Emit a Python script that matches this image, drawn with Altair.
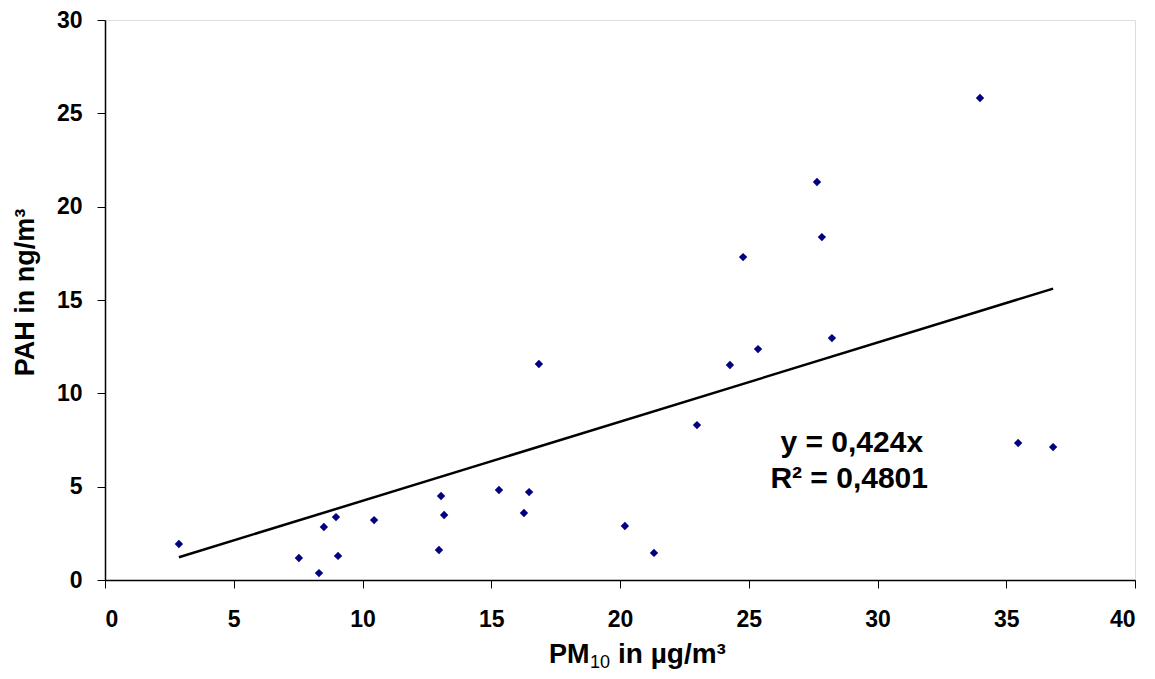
import altair as alt
import pandas as pd

# Data
pm10 = [2.87, 7.53, 8.31, 8.50, 8.97, 9.05, 10.45, 12.97, 13.05, 13.17, 15.30, 16.27,
        16.47, 16.85, 20.19, 21.32, 22.99, 24.27, 24.78, 25.36, 27.65, 27.84, 28.23,
        33.98, 35.46, 36.82]
pah = [1.93, 1.18, 0.37, 2.84, 3.37, 1.29, 3.21, 1.61, 4.50, 3.48, 4.82, 3.59,
       4.71, 11.57, 2.89, 1.45, 8.30, 11.52, 17.30, 12.37, 21.32, 18.37, 12.96,
       25.82, 7.34, 7.12]

trend_x = [2.87, 36.82]
trend_y = [1.22, 15.61]

eq_lines = ["y = 0,424x", "R² = 0,4801"]
eq_x = [29.0, 28.9]
eq_y = [7.35, 5.4]

FONT = "Liberation Sans"

pts = pd.DataFrame({"pm10": pm10, "pah": pah})
trend = pd.DataFrame({"pm10": trend_x, "pah": trend_y})
eq = pd.DataFrame({"pm10": eq_x, "pah": eq_y, "label": eq_lines})

xscale = alt.Scale(domain=[0, 40], nice=False, zero=False)
yscale = alt.Scale(domain=[0, 30], nice=False, zero=False)

xaxis = alt.Axis(
    title=None, values=list(range(0, 41, 5)), grid=False,
    labelFont=FONT, labelFontSize=23, labelFontWeight="bold", labelColor="#000",
    labelPadding=20, tickSize=8, tickColor="#000", domainColor="#000", domainWidth=1.5,
)
yaxis = alt.Axis(
    title="PAH in ng/m³", values=list(range(0, 31, 5)), grid=False,
    labelFont=FONT, labelFontSize=23, labelFontWeight="bold", labelColor="#000",
    labelPadding=15, tickSize=8, tickColor="#000", domainColor="#000", domainWidth=1.5,
    titleFont=FONT, titleFontSize=27, titleFontWeight="bold", titleColor="#000",
    titleX=-66, titleY=272,
)

points = alt.Chart(pts).mark_point(
    shape="diamond", filled=True, color="#000080", size=70, opacity=1
).encode(
    x=alt.X("pm10:Q", scale=xscale, axis=xaxis),
    y=alt.Y("pah:Q", scale=yscale, axis=yaxis),
)

line = alt.Chart(trend).mark_line(color="#000", strokeWidth=2.5).encode(
    x=alt.X("pm10:Q", scale=xscale),
    y=alt.Y("pah:Q", scale=yscale),
)

text = alt.Chart(eq).mark_text(
    font=FONT, fontSize=30, fontWeight="bold", color="#000", align="center", baseline="middle"
).encode(
    x=alt.X("pm10:Q", scale=xscale),
    y=alt.Y("pah:Q", scale=yscale),
    text="label:N",
)

# x-axis title built from parts so that "10" is a real subscript
title_df = pd.DataFrame({"k": [0]})
t_pm = alt.Chart(title_df).mark_text(
    text="PM", font=FONT, fontSize=27, fontWeight="bold", color="#000",
    align="left", baseline="alphabetic"
).encode(x=alt.value(444), y=alt.value(643))
t_sub = alt.Chart(title_df).mark_text(
    text="10", font=FONT, fontSize=18, fontWeight="normal", color="#000",
    align="left", baseline="alphabetic"
).encode(x=alt.value(485), y=alt.value(648))
t_rest = alt.Chart(title_df).mark_text(
    text="in µg/m³", font=FONT, fontSize=28, fontWeight="bold", color="#000",
    align="left", baseline="alphabetic"
).encode(x=alt.value(513), y=alt.value(643))

chart = alt.layer(line, points, text, t_pm, t_sub, t_rest).properties(
    width=1030, height=560,
    autosize=alt.AutoSizeParams(type="none"),
    padding={"left": 97, "top": 12, "right": 12, "bottom": 91},
).configure_view(
    stroke="#888", strokeWidth=1.5
).configure(background="white")

chart.save("out.html", embed_options={"renderer": "svg", "actions": False})
